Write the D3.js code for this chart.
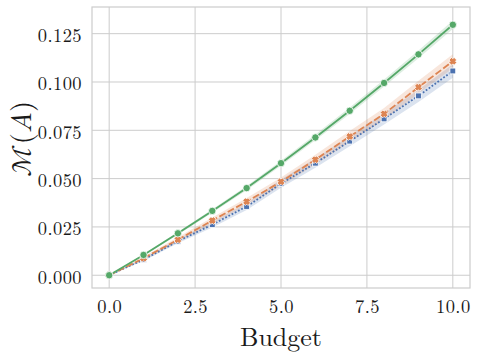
<!DOCTYPE html>
<html><head><meta charset="utf-8">
<script src="https://cdn.jsdelivr.net/npm/d3@7"></script>
<style>
html,body{margin:0;padding:0;background:#fff;}
</style></head>
<body><svg id="c" width="478" height="353"></svg>
<script>
const budget = [0,1,2,3,4,5,6,7,8,9,10];
const greenVals  = [0,0.0105,0.0217,0.0333,0.0451,0.0580,0.0713,0.0851,0.0995,0.1143,0.1296];
const orangeVals = [0,0.0088,0.0184,0.0283,0.0381,0.0484,0.0598,0.0718,0.0835,0.0973,0.1107];
const blueVals   = [0,0.0081,0.0176,0.0262,0.0356,0.0474,0.0580,0.0694,0.0809,0.0928,0.1057];
const greenErr  = [0,0.0004,0.0007,0.0009,0.0011,0.0013,0.0015,0.0017,0.0018,0.0020,0.0022];
const orangeErr = [0,0.0008,0.0012,0.0016,0.0019,0.0022,0.0025,0.0028,0.0031,0.0033,0.0036];
const blueErr   = [0,0.0007,0.0011,0.0015,0.0018,0.0021,0.0024,0.0027,0.0029,0.0032,0.0035];
const xTicks = [0,2.5,5,7.5,10];
const yTicks = [0,0.025,0.05,0.075,0.1,0.125];

const FONT = "Latin Modern Roman, CMU Serif, serif";
const svg = d3.select("#c");
const L=92,R=470,T=7,B=288;
const x = d3.scaleLinear().domain([-0.5,10.5]).range([L,R]);
const y = d3.scaleLinear().domain([-0.0066,0.1388]).range([B,T]);

// grid
const g = svg.append("g");
g.selectAll(".gx").data(xTicks).enter().append("line")
 .attr("x1",d=>x(d)).attr("x2",d=>x(d)).attr("y1",T).attr("y2",B)
 .attr("stroke","#cccccc").attr("stroke-width",1);
g.selectAll(".gy").data(yTicks).enter().append("line")
 .attr("y1",d=>y(d)).attr("y2",d=>y(d)).attr("x1",L).attr("x2",R)
 .attr("stroke","#cccccc").attr("stroke-width",1);

// axes (labels only)
const xAxis = d3.axisBottom(x).tickValues(xTicks).tickSize(0).tickPadding(14).tickFormat(d3.format(".1f"));
const yAxis = d3.axisLeft(y).tickValues(yTicks).tickSize(0).tickPadding(10).tickFormat(d3.format(".3f"));
const ax = svg.append("g").attr("transform",`translate(0,${B})`).call(xAxis);
const ay = svg.append("g").attr("transform",`translate(${L},0)`).call(yAxis);
[ax,ay].forEach(a=>{
  a.attr("font-family",FONT).attr("font-size",18.5);
  a.select(".domain").remove();
  a.selectAll("text").attr("fill","#1a1a1a").attr("font-family",FONT).attr("font-size",18.5).attr("letter-spacing","0.4px");
});
ay.selectAll("text").attr("dy","0.42em");
ax.selectAll("text").attr("dy","0.62em");

// frame
svg.append("rect").attr("x",L).attr("y",T).attr("width",R-L).attr("height",B-T)
 .attr("fill","none").attr("stroke","#cccccc").attr("stroke-width",1.2);

const series = [
 {vals:blueVals, err:blueErr, color:"#4C72B0", dash:"1.8,1.8", marker:"square"},
 {vals:orangeVals, err:orangeErr, color:"#DD8452", dash:"7,2.6", marker:"x"},
 {vals:greenVals, err:greenErr, color:"#55A868", dash:null, marker:"circle"}
];
const area = d3.area().x((d,i)=>x(budget[i])).y0(d=>y(d[0])).y1(d=>y(d[1]));
series.forEach(s=>{
  svg.append("path").datum(s.vals.map((v,i)=>[v-s.err[i],v+s.err[i]]))
   .attr("d",area).attr("fill",s.color).attr("fill-opacity",0.2).attr("stroke","none");
});
const line = d3.line().x((d,i)=>x(budget[i])).y(d=>y(d));
series.forEach(s=>{
  const p = svg.append("path").datum(s.vals).attr("d",line).attr("fill","none")
   .attr("stroke",s.color).attr("stroke-width",1.8);
  if(s.dash) p.attr("stroke-dasharray",s.dash);
});
const xShape = "M-1.3,-3.9 L0,-2.6 L1.3,-3.9 L3.9,-1.3 L2.6,0 L3.9,1.3 L1.3,3.9 L0,2.6 L-1.3,3.9 L-3.9,1.3 L-2.6,0 L-3.9,-1.3 Z";
series.forEach(s=>{
  const m = svg.append("g");
  s.vals.forEach((v,i)=>{
    const cx=x(budget[i]), cy=y(v);
    if(s.marker==="circle"){
      m.append("circle").attr("cx",cx).attr("cy",cy).attr("r",3.7).attr("fill",s.color).attr("stroke","#fff").attr("stroke-width",0.8);
    } else if(s.marker==="square"){
      m.append("rect").attr("x",cx-2.9).attr("y",cy-2.9).attr("width",5.8).attr("height",5.8).attr("fill",s.color).attr("stroke","#fff").attr("stroke-width",0.8);
    } else {
      m.append("path").attr("d",xShape).attr("transform",`translate(${cx},${cy})`).attr("fill",s.color).attr("stroke","#fff").attr("stroke-width",0.8);
    }
  });
});

// axis titles
svg.append("text").attr("x",x(5)).attr("y",346).attr("text-anchor","middle")
 .attr("font-family",FONT).attr("font-size",26).attr("fill","#1a1a1a").text("Budget");
const yl = svg.append("text").attr("transform",`translate(31,139) rotate(-90)`).attr("text-anchor","middle")
 .attr("font-family",FONT).attr("font-size",28.5).attr("fill","#1a1a1a");
yl.append("tspan").attr("font-family","Latin Modern Math, "+FONT).text("ℳ");
yl.append("tspan").text("(");
yl.append("tspan").attr("font-style","italic").text("A");
yl.append("tspan").text(")");
</script></body></html>
